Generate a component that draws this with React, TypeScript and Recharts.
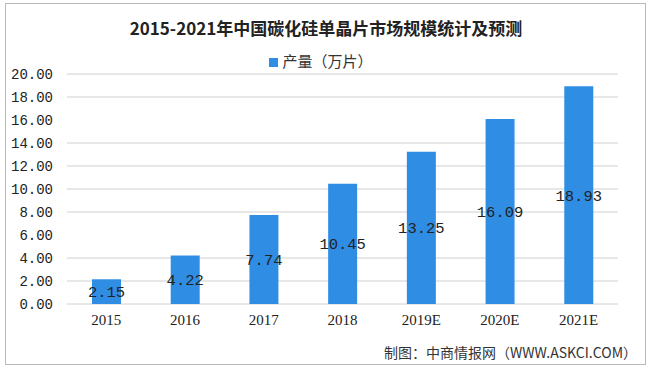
import React from 'react'
import { BarChart, Bar, XAxis, YAxis, CartesianGrid, Legend, LabelList } from 'recharts'

const years = ['2015', '2016', '2017', '2018', '2019E', '2020E', '2021E']
const output = [2.15, 4.22, 7.74, 10.45, 13.25, 16.09, 18.93]
const yTicks = [0, 2, 4, 6, 8, 10, 12, 14, 16, 18, 20]
const boundaryTicks = [0, 1, 2, 3, 4, 5, 6, 7]

const data = years.map((y, i) => ({ year: y, value: output[i] }))

const App: React.FC = () => {
  return (
    <div style={{ position: 'absolute', left: 0, top: 0, width: 652, height: 368, background: '#fff', fontFamily: '"Noto Sans CJK SC", sans-serif' }}>
      <div style={{ position: 'absolute', left: 5, top: 3, width: 641, height: 362, border: '1px solid #bbb', boxSizing: 'border-box' }} />
      <div style={{ position: 'absolute', left: 0, top: 15, width: 652, textAlign: 'center', fontSize: 17, fontWeight: 'bold', color: '#222' }}>
        2015-2021年中国碳化硅单晶片市场规模统计及预测
      </div>
      <BarChart width={652} height={368} data={data} margin={{ top: 74, right: 34, bottom: 34, left: 7 }}>
        <CartesianGrid vertical={false} stroke="#d0d0d0" />
        <Legend
          verticalAlign="middle"
          align="center"
          iconType="square"
          iconSize={9}
          wrapperStyle={{ top: 50, left: 0, width: 652, fontSize: 15 }}
          formatter={() => <span style={{ color: '#333' }}>产量（万片）</span>}
        />
        <XAxis
          dataKey="year"
          tickLine={false}
          axisLine={false}
          height={30}
          tick={{ fontSize: 15, fill: '#222', fontFamily: '"Liberation Serif", serif' }}
          tickMargin={4}
        />
        <XAxis
          xAxisId="bounds"
          type="number"
          domain={[0, 7]}
          ticks={boundaryTicks}
          tick={false}
          height={0}
          stroke="#888"
          tickSize={6}
          allowDataOverflow
        />
        <YAxis
          width={60}
          domain={[0, 20]}
          ticks={yTicks}
          axisLine={false}
          tickLine={false}
          tickMargin={8}
          tickFormatter={(v: number) => v.toFixed(2)}
          tick={{ fontSize: 14, fill: '#222', fontFamily: '"Liberation Mono", monospace' }}
        />
        <Bar dataKey="value" name="产量（万片）" fill="#2F8DE4" barSize={29} isAnimationActive={false}>
          <LabelList
            dataKey="value"
            position="center"
            formatter={(v: number) => v.toFixed(2)}
            style={{ fontSize: 15.5, fill: '#222', fontFamily: '"Liberation Mono", monospace' }}
          />
        </Bar>
      </BarChart>
      <div style={{ position: 'absolute', right: 15, top: 342, fontSize: 14, color: '#333' }}>
        制图：中商情报网（WWW.ASKCI.COM）
      </div>
    </div>
  )
}

export default App
